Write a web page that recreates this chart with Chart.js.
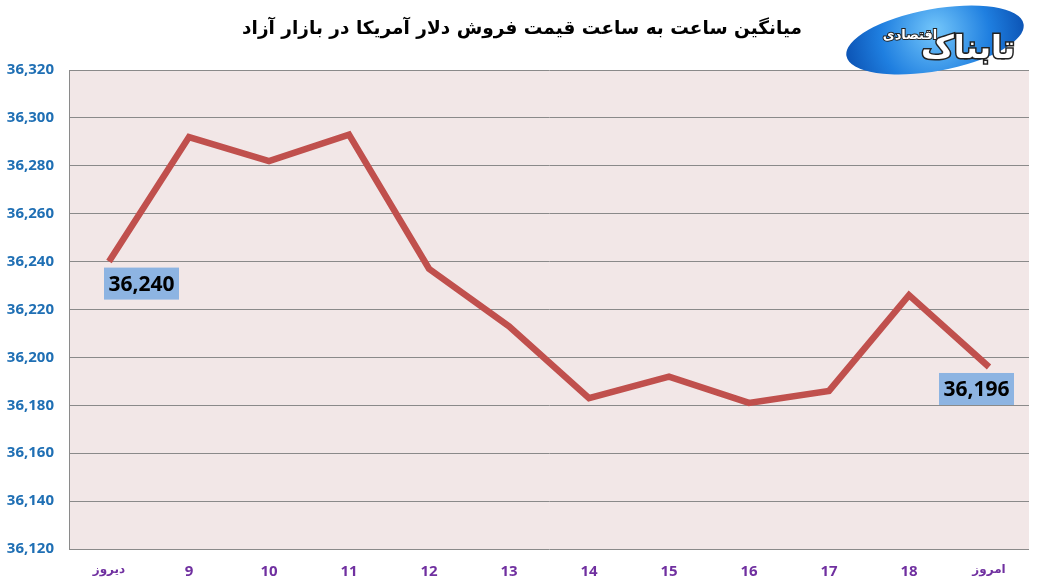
<!DOCTYPE html>
<html>
<head>
<meta charset="utf-8">
<script src="https://cdn.jsdelivr.net/npm/chart.js@4"></script>
<style>
  html, body { margin: 0; padding: 0; background: #fff; }
  #wrap { width: 1037px; height: 587px; }
</style>
</head>
<body>
<div id="wrap"><canvas id="myChart" width="1037" height="587"></canvas></div>
<script>
const hours = ['دیروز', '9', '10', '11', '12', '13', '14', '15', '16', '17', '18', 'امروز'];
const prices = [36240, 36292, 36282, 36293, 36237, 36213, 36183, 36192, 36181, 36186, 36226, 36196];
const yTicks = [36120, 36140, 36160, 36180, 36200, 36220, 36240, 36260, 36280, 36300, 36320];
const chartTitle = 'میانگین ساعت به ساعت قیمت فروش دلار آمریکا در بازار آزاد';
const logoText = 'تابناک';
const logoSub = 'اقتصادی';

// plot background, title, logo
const decor = {
  id: 'decor',
  beforeDraw(chart) {
    const { ctx, chartArea: a } = chart;
    ctx.save();
    ctx.fillStyle = '#f2e7e7';
    ctx.fillRect(a.left, a.top, a.right - a.left, a.bottom - a.top);
    ctx.restore();
  },
  afterDraw(chart) {
    const ctx = chart.ctx;
    ctx.save();
    ctx.fillStyle = '#000';
    ctx.font = 'bold 18.5px "DejaVu Sans"';
    ctx.textAlign = 'center';
    ctx.textBaseline = 'middle';
    ctx.direction = 'rtl';
    ctx.fillText(chartTitle, 522, 29);

    // logo: blue ellipse with white text
    const g = ctx.createRadialGradient(935, 30, 5, 935, 38, 95);
    g.addColorStop(0, '#6cc0f8');
    g.addColorStop(0.55, '#1f7fe0');
    g.addColorStop(1, '#0a4fb0');
    ctx.fillStyle = g;
    ctx.beginPath();
    ctx.ellipse(935, 40, 90, 31, -0.18, 0, Math.PI * 2);
    ctx.fill();
    ctx.fillStyle = '#fff';
    ctx.strokeStyle = '#222';
    ctx.lineWidth = 3;
    ctx.font = 'bold 32px "DejaVu Sans"';
    ctx.strokeText(logoText, 968, 50);
    ctx.fillText(logoText, 968, 50);
    ctx.font = 'bold 13px "DejaVu Sans"';
    ctx.lineWidth = 2;
    ctx.strokeText(logoSub, 910, 36);
    ctx.fillText(logoSub, 910, 36);
    ctx.restore();
  }
};

// value boxes for first and last point
const endLabels = {
  id: 'endLabels',
  afterDatasetsDraw(chart) {
    const { ctx } = chart;
    const pts = chart.getDatasetMeta(0).data;
    const last = pts.length - 1;
    const items = [
      { i: 0, dx: -5 },
      { i: last, dx: -50 }
    ];
    ctx.save();
    ctx.font = 'bold 21px "Open Sans"';
    ctx.textBaseline = 'middle';
    ctx.textAlign = 'center';
    items.forEach(it => {
      const p = pts[it.i];
      const txt = prices[it.i].toLocaleString('en-US');
      const w = 75, h = 32;
      const x = p.x + it.dx, y = p.y + 6;
      ctx.fillStyle = '#8db4e2';
      ctx.fillRect(x, y, w, h);
      ctx.fillStyle = '#000';
      ctx.fillText(txt, x + w / 2, y + h / 2 + 1);
    });
    ctx.restore();
  }
};

new Chart(document.getElementById('myChart'), {
  type: 'line',
  data: {
    labels: hours,
    datasets: [{
      data: prices,
      borderColor: '#c0504d',
      borderWidth: 6.5,
      pointRadius: 0,
      tension: 0,
      fill: false
    }]
  },
  options: {
    responsive: false,
    animation: false,
    devicePixelRatio: 1,
    layout: { padding: { top: 70, right: 8, left: 0, bottom: 0 } },
    plugins: { legend: { display: false }, tooltip: { enabled: false } },
    scales: {
      x: {
        offset: true,
        grid: { display: false, drawTicks: false },
        border: { display: false },
        ticks: {
          padding: 14,
          color: '#7030a0',
          maxRotation: 0,
          font: c => (c.index === 0 || c.index === hours.length - 1)
            ? { family: '"DejaVu Sans"', size: 12, weight: 'bold' }
            : { family: '"Open Sans"', size: 15, weight: 'bold' }
        },
        afterFit: s => { s.height = 38; }
      },
      y: {
        min: yTicks[0],
        max: yTicks[yTicks.length - 1],
        afterBuildTicks: s => { s.ticks = yTicks.map(v => ({ value: v })); },
        grid: { color: '#8a8a8a', lineWidth: 1, drawTicks: false },
        border: { display: true, color: '#8a8a8a', width: 1 },
        ticks: {
          padding: 15,
          color: '#1f6fb4',
          font: { family: '"Open Sans"', size: 15, weight: 'bold' },
          callback: v => v.toLocaleString('en-US')
        },
        afterFit: s => { s.width = 69; }
      }
    }
  },
  plugins: [decor, endLabels]
});
</script>
</body>
</html>
